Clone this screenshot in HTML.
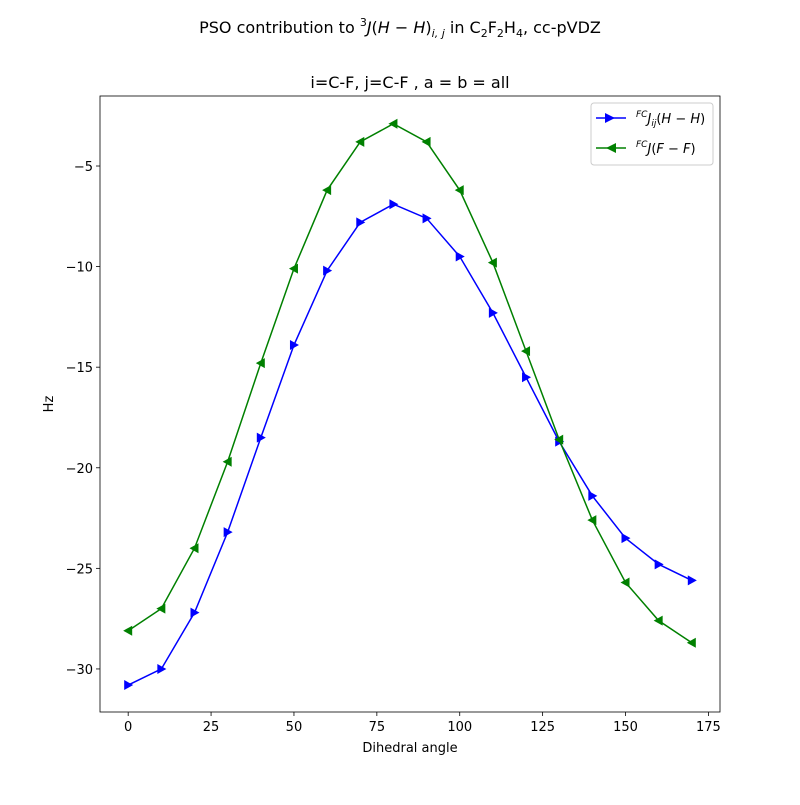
<!DOCTYPE html>
<html><head><meta charset="utf-8">
<style>
body{margin:0;background:#fff;}
svg text{font-family:"DejaVu Sans","Liberation Sans",sans-serif;fill:#000;}
</style></head>
<body>
<svg id="chart" width="800" height="800" viewBox="0 0 800 800" xmlns="http://www.w3.org/2000/svg">
<rect width="800" height="800" fill="#fff"/>
<text x="400" y="33" font-size="16" text-anchor="middle">PSO contribution to <tspan font-size="11" dy="-7">3</tspan><tspan dy="7" font-style="italic">J</tspan>(<tspan font-style="italic">H</tspan> − <tspan font-style="italic">H</tspan>)<tspan font-size="11" dy="4" font-style="italic">i, j</tspan><tspan dy="-4"> in C</tspan><tspan font-size="11" dy="4">2</tspan><tspan dy="-4">F</tspan><tspan font-size="11" dy="4">2</tspan><tspan dy="-4">H</tspan><tspan font-size="11" dy="4">4</tspan><tspan dy="-4">, cc-pVDZ</tspan></text>
<text x="410" y="88" font-size="16" text-anchor="middle">i=C-F, j=C-F , a = b = all</text>
<g id="plot"></g>
<text x="410" y="752" font-size="13" text-anchor="middle">Dihedral angle</text>
<text x="53" y="404" font-size="13" text-anchor="middle" transform="rotate(-90 53 404)">Hz</text>
<g>
<rect x="591" y="103" width="122" height="62" rx="3" fill="#fff" stroke="#ccc"/>
<line x1="596" y1="118" x2="626" y2="118" stroke="blue" stroke-width="1.5"/>
<path d="M605,113 L615,118 L605,123 Z" fill="blue"/>
<text x="636" y="123" font-size="13"><tspan font-size="9" dy="-6" font-style="italic">FC</tspan><tspan dy="6" font-style="italic">J</tspan><tspan font-size="9" dy="3" font-style="italic">ij</tspan><tspan dy="-3">(</tspan><tspan font-style="italic">H</tspan> − <tspan font-style="italic">H</tspan>)</text>
<line x1="596" y1="148" x2="626" y2="148" stroke="green" stroke-width="1.5"/>
<path d="M616,143 L606,148 L616,153 Z" fill="green"/>
<text x="636" y="153" font-size="13"><tspan font-size="9" dy="-6" font-style="italic">FC</tspan><tspan dy="6" font-style="italic">J</tspan>(<tspan font-style="italic">F</tspan> − <tspan font-style="italic">F</tspan>)</text>
</g>
</svg>
<script>
const angles=[0,10,20,30,40,50,60,70,80,90,100,110,120,130,140,150,160,170];
const seriesHH=[-30.8,-30.0,-27.2,-23.2,-18.5,-13.9,-10.2,-7.8,-6.9,-7.6,-9.5,-12.3,-15.5,-18.7,-21.4,-23.5,-24.8,-25.6];
const seriesFF=[-28.1,-27.0,-24.0,-19.7,-14.8,-10.1,-6.2,-3.8,-2.9,-3.8,-6.2,-9.8,-14.2,-18.6,-22.6,-25.7,-27.6,-28.7];
const xTicks=[0,25,50,75,100,125,150,175];
const yTicks=[-30,-25,-20,-15,-10,-5];
const L=100,R=720,T=96,B=712;
const xMin=-8.5,xMax=178.5,yMin=-32.14,yMax=-1.52;
const sx=v=>L+(v-xMin)/(xMax-xMin)*(R-L);
const sy=v=>B-(v-yMin)/(yMax-yMin)*(B-T);
const NS="http://www.w3.org/2000/svg";
const g=document.getElementById('plot');
function mk(tag,attrs){const e=document.createElementNS(NS,tag);for(const k in attrs)e.setAttribute(k,attrs[k]);g.appendChild(e);return e;}
xTicks.forEach(t=>{
  const x=sx(t);
  const l=mk('line',{x1:x,y1:B,x2:x,y2:B+4,stroke:'#000','stroke-width':0.8});
  
  
  const tx=mk('text',{x:x,y:B+19,'font-size':13,'text-anchor':'middle'});
  tx.textContent=t;
  
  
});
yTicks.forEach(t=>{
  const y=sy(t);
  const l=mk('line',{x1:L-4,y1:y,x2:L,y2:y,stroke:'#000','stroke-width':0.8});
  
  
  const tx=mk('text',{x:L-7,y:y+5,'font-size':13,'text-anchor':'end'});
  tx.textContent='\u2212'+Math.abs(t);
  
  
});
function series(vals,color,right,name){
  const pts=angles.map((a,i)=>sx(a)+','+sy(vals[i])).join(' ');
  const pl=mk('polyline',{points:pts,fill:'none',stroke:color,'stroke-width':1.5});
  
  
  angles.forEach((a,i)=>{
    const x=sx(a),y=sy(vals[i]);
    const d=right?`M${x-4},${y-5} L${x+5},${y} L${x-4},${y+5} Z`:`M${x+4},${y-5} L${x-5},${y} L${x+4},${y+5} Z`;
    const m=mk('path',{d:d,fill:color});
    
    
  });
}
series(seriesHH,'blue',true,'hh-series');
series(seriesFF,'green',false,'ff-series');
const fr=mk('rect',{x:L,y:T,width:R-L,height:B-T,fill:'none',stroke:'#000','stroke-width':0.8});


</script>
</body></html>
